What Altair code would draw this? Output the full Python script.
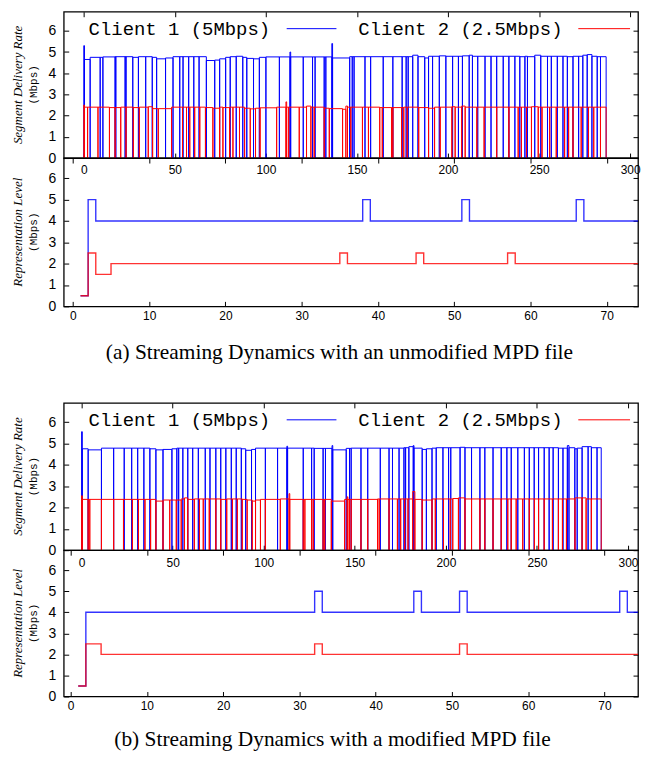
import altair as alt
import pandas as pd

CLIENTS = ["Client 1 (5Mbps)", "Client 2 (2.5Mbps)"]
COLORS = ["#0000ff", "#ff0000"]
TOP_TITLE = "Segment Delivery Rate"
BOTTOM_TITLE = "Representation Level"
UNIT = "(Mbps)"
CAPTIONS = ["(a) Streaming Dynamics with an unmodified MPD file",
            "(b) Streaming Dynamics with a modified MPD file"]

TIME_TICKS = [0, 50, 100, 150, 200, 250, 300]
SEG_TICKS = [0, 10, 20, 30, 40, 50, 60, 70]
RATE_TICKS = [0, 1, 2, 3, 4, 5, 6]

# segment delivery rate: [download start time (s), rate (Mbps)]
A_C1_RATE = [[0, 5.3], [0.4, 4.65], [3.5, 4.75], [9, 4.75], [10.5, 4.77], [17.2, 4.78], [17.6, 4.78],
             [22.7, 4.78], [23.2, 4.78], [26.9, 4.75], [30, 4.78], [34, 4.78], [37.6, 4.75], [40, 4.68],
             [44.9, 4.72], [49, 4.78], [52.7, 4.78], [54.5, 4.78], [57.6, 4.78], [60.4, 4.78], [63.3, 4.78],
             [67.3, 4.6], [71.9, 4.62], [74.6, 4.68], [77.9, 4.75], [80.4, 4.78], [83.7, 4.8], [87.3, 4.75],
             [89.5, 4.7], [93.2, 4.68], [96.4, 4.75], [100, 4.77], [107.4, 4.77], [113.2, 5.0], [113.6, 4.77],
             [120.5, 4.77], [125.6, 4.77], [127, 4.77], [132, 4.77], [132.9, 4.77], [136.2, 5.4], [136.6, 4.72],
             [146, 4.78], [147.4, 4.78], [148.4, 4.78], [154.4, 4.78], [157.5, 4.78], [164.4, 4.78],
             [169.7, 4.78], [174.8, 4.78], [177, 4.78], [178.1, 4.78], [180.6, 4.85], [183.5, 4.78],
             [187.2, 4.72], [189.3, 4.8], [191.5, 4.8], [195.2, 4.82], [198.8, 4.8], [202.5, 4.8],
             [205.7, 4.8], [207.9, 4.82], [211.6, 4.85], [213.4, 4.8], [216.3, 4.8], [220.3, 4.8],
             [223.6, 4.8], [226.7, 4.8], [230.3, 4.8], [233.4, 4.8], [236.7, 4.8], [239.4, 4.78],
             [242.2, 4.8], [243.6, 4.78], [247.6, 4.85], [250.9, 4.8], [254.6, 4.8], [256.7, 4.8],
             [260, 4.8], [263.1, 4.8], [265.5, 4.78], [268.6, 4.8], [271.7, 4.8], [274, 4.85],
             [276.4, 4.88], [279, 4.8], [281.9, 4.78], [283.7, 4.78]]
A_C1_END = 286.8

A_C2_RATE = [[0, 2.5], [0.4, 2.4], [2.1, 2.4], [7.8, 2.4], [14.1, 2.38], [17.2, 2.38], [20.3, 2.4],
             [23.2, 2.4], [27.2, 2.38], [30.5, 2.4], [35.4, 2.42], [37.8, 2.33], [40.9, 2.33], [48.2, 2.4],
             [54.2, 2.4], [56.4, 2.4], [58.2, 2.4], [60.9, 2.4], [63.7, 2.4], [66.8, 2.38], [70.9, 2.35],
             [74.6, 2.4], [76.4, 2.38], [80.1, 2.4], [81.9, 2.4], [85.5, 2.4], [88.3, 2.35], [91.4, 2.32],
             [94.3, 2.35], [96.8, 2.37], [105.9, 2.4], [111, 2.65], [111.4, 2.4], [112.5, 2.4], [118.3, 2.4],
             [122.3, 2.45], [124.7, 2.4], [126.5, 2.4], [132, 2.35], [134.8, 2.33], [142.1, 2.3],
             [143.9, 2.45], [144.8, 2.4], [146.6, 2.4], [153, 2.4], [156.3, 2.4], [162.5, 2.38],
             [163.9, 2.38], [169, 2.38], [169.7, 2.38], [174.5, 2.38], [175.7, 2.4], [177.6, 2.4],
             [183.9, 2.38], [189.3, 2.35], [192.6, 2.4], [195.7, 2.4], [202.1, 2.42], [203.9, 2.4],
             [207.5, 2.45], [209.4, 2.4], [215.8, 2.4], [219.8, 2.4], [226.7, 2.4], [233.4, 2.4],
             [238.5, 2.4], [240.3, 2.4], [243.1, 2.4], [245.8, 2.42], [249.5, 2.4], [251.6, 2.4],
             [255.8, 2.4], [259.4, 2.4], [264, 2.4], [266.2, 2.4], [268.6, 2.4], [273.1, 2.4],
             [277.1, 2.4], [280, 2.4], [283.7, 2.4]]
A_C2_END = 286.8

B_C1_RATE = [[0, 5.55], [0.4, 4.75], [3.6, 4.7], [10.9, 4.78], [17.6, 4.78], [23.4, 4.78], [27.5, 4.78],
             [30.8, 4.78], [34.2, 4.78], [37.5, 4.75], [40.8, 4.7], [44.7, 4.72], [49.6, 4.75], [52.3, 4.78],
             [53.3, 4.78], [55.6, 4.78], [58.3, 4.78], [61, 4.78], [64.1, 4.78], [67.9, 4.78], [70.5, 4.78],
             [73.7, 4.78], [76.4, 4.78], [79.2, 4.78], [82.2, 4.78], [84.9, 4.78], [87.7, 4.75], [90.1, 4.68],
             [93.3, 4.72], [95.5, 4.78], [100.9, 4.78], [107.6, 4.78], [112.7, 4.87], [113.1, 4.78],
             [121.7, 4.78], [126.3, 4.78], [127.7, 4.77], [132.6, 4.77], [133.9, 4.77], [137.5, 4.9],
             [137.9, 4.7], [145.3, 4.77], [147.1, 4.77], [148, 4.78], [153.4, 4.78], [157.1, 4.78],
             [164, 4.78], [168.8, 4.78], [170.7, 4.78], [174.3, 4.78], [177, 4.8], [177.9, 4.8],
             [179.7, 4.85], [182.1, 4.9], [182.5, 4.78], [187, 4.72], [189.3, 4.75], [192.4, 4.78],
             [194.7, 4.8], [198.4, 4.8], [201.5, 4.8], [202.7, 4.8], [207.8, 4.82], [210.5, 4.8],
             [214.1, 4.8], [218.7, 4.8], [221.4, 4.8], [225.9, 4.8], [230.4, 4.8], [233.5, 4.8],
             [235.9, 4.8], [239.5, 4.8], [243.1, 4.8], [245.8, 4.8], [248.5, 4.8], [250.9, 4.8],
             [254, 4.8], [256.7, 4.8], [258.9, 4.8], [261.8, 4.78], [264.3, 4.78], [266.7, 4.9],
             [267.6, 4.8], [270.8, 4.75], [272.1, 4.78], [274.8, 4.85], [278.1, 4.85], [279.9, 4.8],
             [283, 4.8]]
B_C1_END = 285.3

B_C2_RATE = [[0, 2.55], [0.4, 2.38], [3.6, 2.38], [4.5, 2.38], [10.9, 2.38], [17.6, 2.38], [23, 2.38],
             [27.9, 2.38], [31.2, 2.38], [34.8, 2.38], [37.9, 2.38], [40.8, 2.3], [44.7, 2.35], [48.4, 2.35],
             [52, 2.35], [54.7, 2.4], [56.5, 2.45], [58.3, 2.38], [61.9, 2.4], [64.7, 2.4], [66.8, 2.4],
             [70.1, 2.4], [73.7, 2.4], [76.4, 2.38], [79.7, 2.4], [82.8, 2.4], [85.5, 2.4], [88.2, 2.38],
             [90.9, 2.35], [93.7, 2.3], [95.5, 2.35], [98.2, 2.38], [100.9, 2.38], [109.1, 2.4],
             [113.9, 2.65], [114.3, 2.38], [121.7, 2.38], [122.6, 2.38], [126.3, 2.38], [127.2, 2.38],
             [132.6, 2.38], [133.5, 2.38], [137.1, 2.3], [144.4, 2.38], [145.8, 2.5], [146.2, 2.38],
             [147.1, 2.38], [148, 2.38], [153.4, 2.38], [157.1, 2.38], [162.5, 2.4], [163.4, 2.4],
             [168.8, 2.4], [173.4, 2.4], [175.2, 2.4], [177.4, 2.4], [179.2, 2.4], [181.8, 2.75],
             [183, 2.38], [187, 2.35], [192.4, 2.4], [194.2, 2.4], [198.7, 2.4], [202.4, 2.4],
             [203.8, 2.42], [206.9, 2.45], [210.5, 2.4], [214.1, 2.4], [218.7, 2.4], [221.4, 2.4],
             [225.9, 2.4], [230.4, 2.4], [234, 2.4], [235.9, 2.4], [238.6, 2.4], [242.2, 2.4],
             [245.8, 2.4], [248.6, 2.4], [250.9, 2.4], [254, 2.4], [258.5, 2.4], [261.8, 2.4],
             [264, 2.4], [266.2, 2.4], [270.9, 2.45], [274.8, 2.45], [277, 2.4], [279.9, 2.4]]
B_C2_END = 285.3

# representation level: [segment index where level starts, level (Mbps)]
A_C1_LEVEL = [[1, 0.5], [2, 5], [3, 4], [38, 5], [39, 4], [51, 5], [52, 4], [66, 5], [67, 4]]
A_C2_LEVEL = [[1, 0.5], [2, 2.5], [3, 1.5], [5, 2], [35, 2.5], [36, 2], [45, 2.5], [46, 2],
              [57, 2.5], [58, 2]]
B_C1_LEVEL = [[1, 0.5], [2, 4], [32, 5], [33, 4], [45, 5], [46, 4], [51, 5], [52, 4], [72, 5], [73, 4]]
B_C2_LEVEL = [[1, 0.5], [2, 2.5], [4, 2], [32, 2.5], [33, 2], [51, 2.5], [52, 2]]
LEVEL_END = 76

W = 577
SANS = "Liberation Sans"


def rate_df(pairs, end, client):
    rows, k = [], 0
    for i, (t, r) in enumerate(pairs):
        nxt = pairs[i + 1][0] if i + 1 < len(pairs) else end
        for x, y in ((t, 0.0), (t, r), (nxt, r)):
            rows.append(dict(x=x, y=y, client=client, k=k))
            k += 1
    rows.append(dict(x=end, y=0.0, client=client, k=k))
    return pd.DataFrame(rows)


def level_df(pairs, end, client):
    rows = [dict(x=t, y=v, client=client) for t, v in pairs]
    rows.append(dict(x=end, y=pairs[-1][1], client=client))
    return pd.DataFrame(rows)


def ax(values, orient, pad, size, labels=True):
    return alt.Axis(values=values, orient=orient, offset=-5, tickSize=5, tickColor="black",
                    tickWidth=1, domain=False, grid=False, title=None, labels=labels,
                    labelPadding=pad, labelFont=SANS, labelFontSize=size, labelColor="black",
                    labelFlush=False, labelOverlap=False, minExtent=0, maxExtent=30)


COLOR = alt.Color("client:N", scale=alt.Scale(domain=CLIENTS, range=COLORS), legend=None)


def ytitle_layers(text, h):
    d = pd.DataFrame({"t": [text], "u": [UNIT]})
    a = alt.Chart(d).mark_text(angle=270, font="Liberation Serif", fontStyle="italic", fontSize=13,
                               align="center", baseline="middle", color="black").encode(
        text="t:N", x=alt.value(-46), y=alt.value(h / 2))
    b = alt.Chart(d).mark_text(angle=270, font="Liberation Mono", fontSize=11,
                               align="center", baseline="middle", color="black").encode(
        text="u:N", x=alt.value(-30), y=alt.value(h / 2))
    return [a, b]


def legend_layers():
    out = []
    for i, (tx, l1, l2) in enumerate([(25, 224, 274), (296, 517, 569)]):
        d = pd.DataFrame({"label": [CLIENTS[i]]})
        out.append(alt.Chart(d).mark_text(align="left", baseline="middle", font="Liberation Mono",
                                          fontSize=19, color="black").encode(
            text="label:N", x=alt.value(tx), y=alt.value(17)))
        out.append(alt.Chart(d).mark_rule(color=COLORS[i], strokeWidth=1).encode(
            x=alt.value(l1), x2=alt.value(l2), y=alt.value(17)))
    return out


def top_panel(c1, c1_end, c2, c2_end, xdom, h):
    df = pd.concat([rate_df(c1, c1_end, CLIENTS[0]), rate_df(c2, c2_end, CLIENTS[1])])
    xs = alt.Scale(domain=xdom, nice=False, zero=False)
    ys = alt.Scale(domain=[0, 6.9], nice=False)
    lines = alt.Chart(df).mark_line(strokeWidth=1, clip=True).encode(
        x=alt.X("x:Q", scale=xs, axis=ax(TIME_TICKS, "bottom", 7, 12)),
        y=alt.Y("y:Q", scale=ys, axis=ax(RATE_TICKS, "left", 8, 14)),
        color=COLOR, order="k:Q")
    mirror = alt.Chart(df).mark_point(opacity=0, size=1).encode(
        x=alt.X("x:Q", scale=xs, axis=ax(TIME_TICKS, "top", 0, 12, labels=False)),
        y=alt.Y("y:Q", scale=ys, axis=ax(RATE_TICKS, "right", 0, 14, labels=False)))
    return alt.layer(lines, mirror, *legend_layers(), *ytitle_layers(TOP_TITLE, h)).resolve_axis(
        x="independent", y="independent").properties(width=W, height=h)


def bottom_panel(c1, c2, xdom, h):
    df = pd.concat([level_df(c1, LEVEL_END, CLIENTS[0]), level_df(c2, LEVEL_END, CLIENTS[1])])
    xs = alt.Scale(domain=xdom, nice=False, zero=False)
    ys = alt.Scale(domain=[0, 6.95], nice=False)
    lines = alt.Chart(df).mark_line(strokeWidth=1.4, opacity=0.8, interpolate="step-after",
                                    clip=True).encode(
        x=alt.X("x:Q", scale=xs, axis=ax(SEG_TICKS, "bottom", 4, 12)),
        y=alt.Y("y:Q", scale=ys, axis=ax(RATE_TICKS, "left", 8, 14)),
        color=COLOR)
    mirror = alt.Chart(df).mark_point(opacity=0, size=1, clip=True).encode(
        x=alt.X("x:Q", scale=xs, axis=ax(SEG_TICKS, "top", 0, 12, labels=False)),
        y=alt.Y("y:Q", scale=ys, axis=ax(RATE_TICKS, "right", 0, 14, labels=False)))
    return alt.layer(lines, mirror, *ytitle_layers(BOTTOM_TITLE, h)).resolve_axis(
        x="independent", y="independent").properties(width=W, height=h)


def caption(text, h, x, y):
    d = pd.DataFrame({"c": [text]})
    return alt.Chart(d).mark_text(font="Liberation Serif", fontSize=21.5, align="center",
                                  baseline="middle", color="black").encode(
        text="c:N", x=alt.value(x), y=alt.value(y)).properties(
        width=W, height=h, view=alt.ViewBackground(stroke="transparent"))


a_top = top_panel(A_C1_RATE, A_C1_END, A_C2_RATE, A_C2_END, [-11, 304.3], 147)
a_bot = bottom_panel(A_C1_LEVEL, A_C2_LEVEL, [-1.2, 74.1], 149)
cap_a = caption(CAPTIONS[0], 97, 277, 47)
b_top = top_panel(B_C1_RATE, B_C1_END, B_C2_RATE, B_C2_END, [-9.8, 305.5], 148)
b_bot = bottom_panel(B_C1_LEVEL, B_C2_LEVEL, [-0.9, 74.4], 147)
cap_b = caption(CAPTIONS[1], 40, 270, 44)

chart = alt.vconcat(a_top, a_bot, cap_a, b_top, b_bot, cap_b, spacing=0, bounds="flush").properties(
    padding={"left": 3, "top": 0, "right": 0, "bottom": 0}
).configure_view(stroke="black", strokeWidth=1.3).configure_axis(grid=False)

chart.save("out.html", embed_options={"renderer": "svg", "actions": False})
